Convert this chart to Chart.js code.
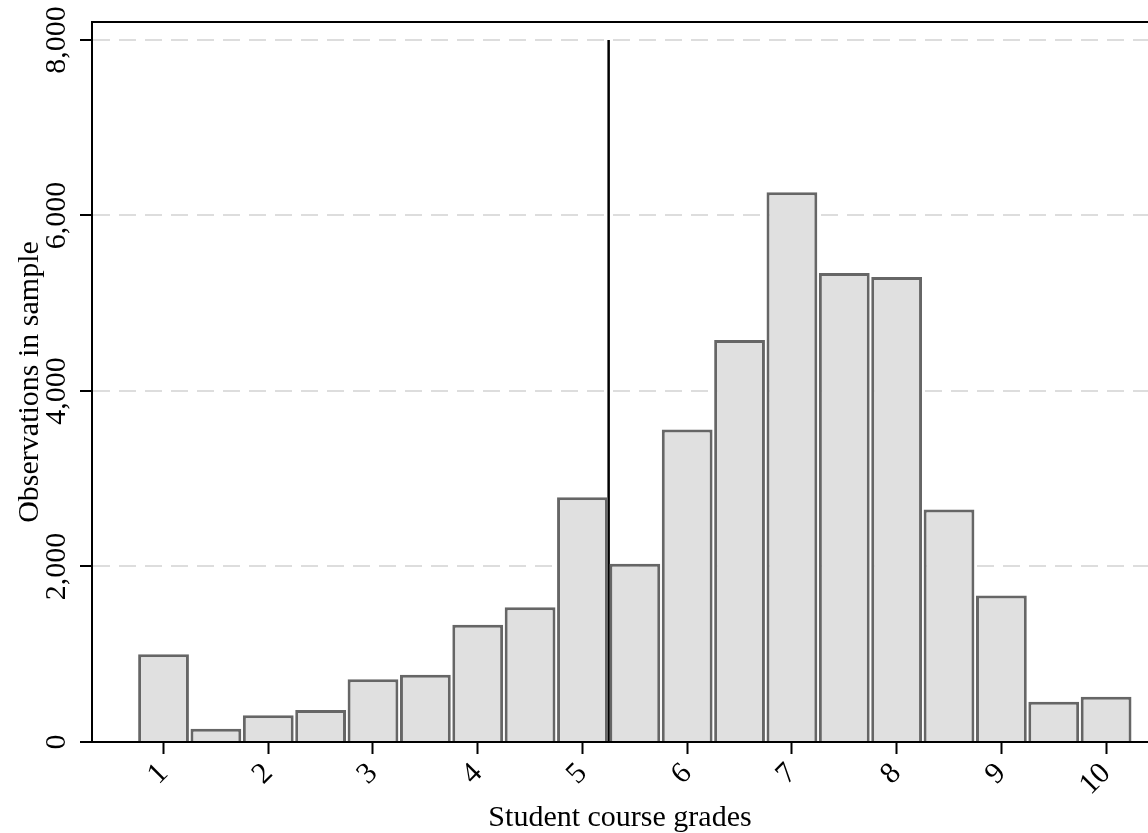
<!DOCTYPE html>
<html>
<head>
<meta charset="utf-8">
<script src="https://cdn.jsdelivr.net/npm/chart.js@4"></script>
<style>
    body { margin: 0; background: #fff; }
    #wrap { width: 1148px; height: 833px; }
</style>
</head>
<body>
<div id="wrap"><canvas id="chart-grades"></canvas></div>
<script>
// grade bins (centre of each half-point bin) and counts
let grades = [1, 1.5, 2, 2.5, 3, 3.5, 4, 4.5, 5, 5.5, 6, 6.5, 7, 7.5, 8, 8.5, 9, 9.5, 10];
let counts = [1000, 150, 305, 365, 715, 765, 1335, 1535, 2790, 2030, 3560, 4580, 6265, 5345, 5300, 2650, 1670, 460, 515];
let xTicks = [1, 2, 3, 4, 5, 6, 7, 8, 9, 10];
let yTicks = [0, 2000, 4000, 6000, 8000];
let cutoff = 5.25;

let font = 'Liberation Serif';

// top frame line
let frameTop = {
    id: 'frameTop',
    afterDraw(chart) {
        let ctx = chart.ctx, a = chart.chartArea;
        ctx.save();
        ctx.strokeStyle = '#000';
        ctx.lineWidth = 2;
        ctx.beginPath();
        ctx.moveTo(a.left - 1, a.top);
        ctx.lineTo(a.right, a.top);
        ctx.stroke();
        ctx.restore();
    }
};

new Chart(document.getElementById('chart-grades').getContext('2d'), {
    type: 'bar',
    data: {
        datasets: [{
            type: 'bar',
            data: grades.map((g, i) => ({x: g, y: counts[i]})),
            backgroundColor: '#e0e0e0',
            borderColor: '#666666',
            borderWidth: 3,
            borderSkipped: 'start',
            barPercentage: 1,
            categoryPercentage: 0.97,
        }, {
            type: 'line',
            data: [{x: cutoff, y: 0}, {x: cutoff, y: 8000}],
            borderColor: '#000',
            borderWidth: 2.5,
            pointRadius: 0,
        }]
    },
    options: {
        responsive: true,
        maintainAspectRatio: false,
        animation: false,
        layout: { padding: { top: 22, right: 0, left: 0, bottom: 0 } },
        plugins: {
            legend: { display: false },
            tooltip: { enabled: false },
        },
        scales: {
            x: {
                type: 'linear',
                min: 0.317,
                max: 10.4,
                offset: false,
                afterBuildTicks: s => { s.ticks = xTicks.map(v => ({value: v})); },
                afterFit: s => { s.height = 91; },
                border: { color: '#000', width: 2 },
                grid: { offset: false, drawOnChartArea: false, tickLength: 12, tickColor: '#000', tickWidth: 2 },
                ticks: {
                    minRotation: 45, maxRotation: 45, padding: 2,
                    color: '#000', font: { family: font, size: 30 },
                },
                title: {
                    display: true, text: 'Student course grades', color: '#000',
                    font: { family: font, size: 30, lineHeight: 1 }, padding: 0,
                },
            },
            y: {
                min: 0,
                max: 8205,
                afterBuildTicks: s => { s.ticks = yTicks.map(v => ({value: v})); },
                afterFit: s => { s.width = 92; },
                border: { color: '#000', width: 2, dash: [17, 9] },
                grid: {
                    color: '#dddddd', lineWidth: 2,
                    tickLength: 12, tickColor: '#000', tickWidth: 2, tickBorderDash: [],
                },
                ticks: {
                    minRotation: 90, maxRotation: 90, crossAlign: 'center', padding: -11,
                    color: '#000', font: { family: font, size: 30 },
                    callback: v => v.toLocaleString('en-US'),
                },
                title: {
                    display: true, text: 'Observations in sample', color: '#000',
                    font: { family: font, size: 30 }, padding: { top: 12, bottom: 0 },
                },
            },
        },
    },
    plugins: [frameTop],
});
</script>
</body>
</html>
